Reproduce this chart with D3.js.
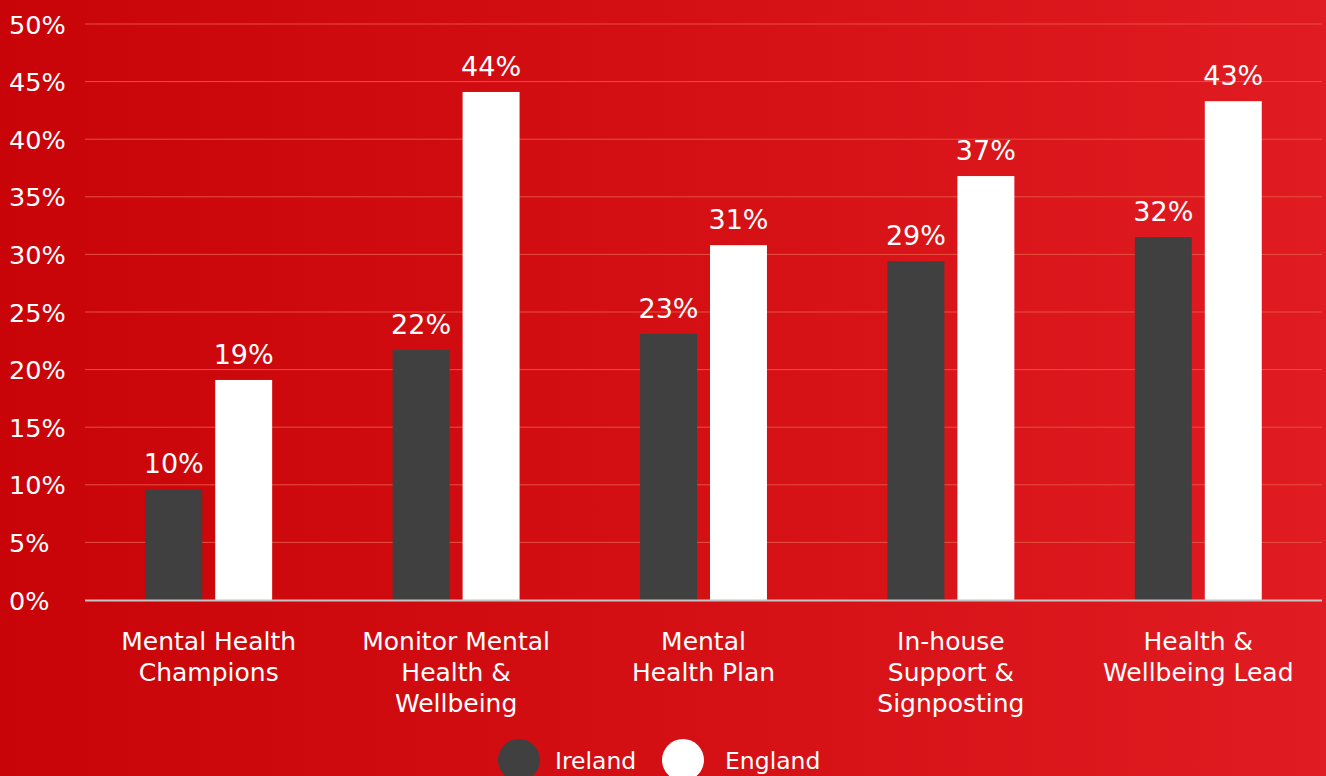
<!DOCTYPE html>
<html>
<head>
<meta charset="utf-8">
<script src="https://cdn.jsdelivr.net/npm/d3@7"></script>
<style>
  html, body { margin: 0; padding: 0; overflow: hidden; }
  svg { display: block; }
  text { font-family: "DejaVu Sans", sans-serif; fill: #ffffff; }
</style>
</head>
<body>
<svg id="chart" width="1326" height="776"></svg>
<script>
// Share of organisations offering each mental-health measure
const categories = [
  ["Mental Health", "Champions"],
  ["Monitor Mental", "Health &", "Wellbeing"],
  ["Mental", "Health Plan"],
  ["In-house", "Support &", "Signposting"],
  ["Health &", "Wellbeing Lead"]
];
const seriesNames = ["Ireland", "England"];
const ireland = [0.096, 0.217, 0.231, 0.294, 0.315];
const england = [0.191, 0.441, 0.308, 0.368, 0.433];
const yTicks = [0, 0.05, 0.10, 0.15, 0.20, 0.25, 0.30, 0.35, 0.40, 0.45, 0.50];

const seriesValues = [ireland, england];
const seriesColors = ["#404040", "#ffffff"];

const W = 1326, H = 776;
const svg = d3.select("#chart");

// Red background, slightly brighter to the right
const defs = svg.append("defs");
const grad = defs.append("linearGradient")
  .attr("id", "bg").attr("x1", "0%").attr("x2", "100%").attr("y1", "0%").attr("y2", "0%");
grad.append("stop").attr("offset", "0%").attr("stop-color", "#c90408");
grad.append("stop").attr("offset", "100%").attr("stop-color", "#e01b21");
svg.append("rect").attr("width", W).attr("height", H).attr("fill", "url(#bg)");

const plotLeft = 85, plotRight = 1322, plotTop = 24, plotBottom = 600;

const y = d3.scaleLinear().domain([0, 0.5]).range([plotBottom, plotTop]);
const x0 = d3.scaleBand()
  .domain(d3.range(categories.length))
  .range([plotLeft, plotRight])
  .paddingInner(0.487)
  .paddingOuter(0.2435);
const x1 = d3.scaleBand()
  .domain(seriesNames)
  .range([0, x0.bandwidth()])
  .paddingInner(0.186);

// Horizontal gridlines
svg.append("g")
  .selectAll("line")
  .data(yTicks.filter(t => t > 0))
  .join("line")
  .attr("x1", plotLeft).attr("x2", plotRight)
  .attr("y1", d => y(d)).attr("y2", d => y(d))
  .attr("stroke", "#e6503f")
  .attr("stroke-width", 1);

// Y axis tick labels
const pct = d3.format(".0%");
const yAxis = d3.axisLeft(y).tickValues(yTicks).tickFormat(pct).tickSize(0).tickPadding(0);
const gy = svg.append("g").call(yAxis);
gy.select(".domain").remove();
gy.selectAll("text")
  .attr("x", 9)
  .attr("text-anchor", "start")
  .attr("dy", "0.36em")
  .style("font-size", "25.5px")
  .style("font-family", "'DejaVu Sans', sans-serif")
  .attr("fill", "#ffffff");

// Bars
const groups = svg.append("g")
  .selectAll("g")
  .data(categories.map((c, i) => i))
  .join("g")
  .attr("transform", i => `translate(${x0(i)},0)`);

groups.selectAll("rect")
  .data(i => seriesNames.map((s, k) => ({ s, k, v: seriesValues[k][i] })))
  .join("rect")
  .attr("x", d => x1(d.s))
  .attr("width", x1.bandwidth())
  .attr("y", d => y(d.v))
  .attr("height", d => y(0) - y(d.v))
  .attr("fill", d => seriesColors[d.k]);

// Value labels
groups.selectAll("text.val")
  .data(i => seriesNames.map((s, k) => ({ s, k, v: seriesValues[k][i] })))
  .join("text")
  .attr("class", "val")
  .attr("x", d => x1(d.s) + x1.bandwidth() / 2)
  .attr("y", d => y(d.v) - 16)
  .attr("text-anchor", "middle")
  .style("font-size", "27px")
  .text(d => pct(d.v));

// Baseline
svg.append("line")
  .attr("x1", plotLeft).attr("x2", plotRight)
  .attr("y1", plotBottom + 0.5).attr("y2", plotBottom + 0.5)
  .attr("stroke", "#c4c4c4")
  .attr("stroke-width", 2);

// Category labels
svg.append("g")
  .selectAll("text")
  .data(categories)
  .join("text")
  .attr("text-anchor", "middle")
  .attr("transform", (d, i) => `translate(${x0(i) + x0.bandwidth() / 2},650)`)
  .style("font-size", "25px")
  .selectAll("tspan")
  .data(d => d)
  .join("tspan")
  .attr("x", 0)
  .attr("y", (d, j) => j * 31)
  .text(d => d);

// Legend
const legendX = [519, 683];
const legend = svg.append("g")
  .selectAll("g")
  .data(seriesNames)
  .join("g")
  .attr("transform", (d, i) => `translate(${legendX[i]},760)`);
legend.append("circle").attr("r", 21).attr("fill", (d, i) => seriesColors[i]);
legend.append("text")
  .attr("x", (d, i) => i === 0 ? 36 : 42)
  .attr("y", 9)
  .style("font-size", "23.5px")
  .text(d => d);
</script>
</body>
</html>
